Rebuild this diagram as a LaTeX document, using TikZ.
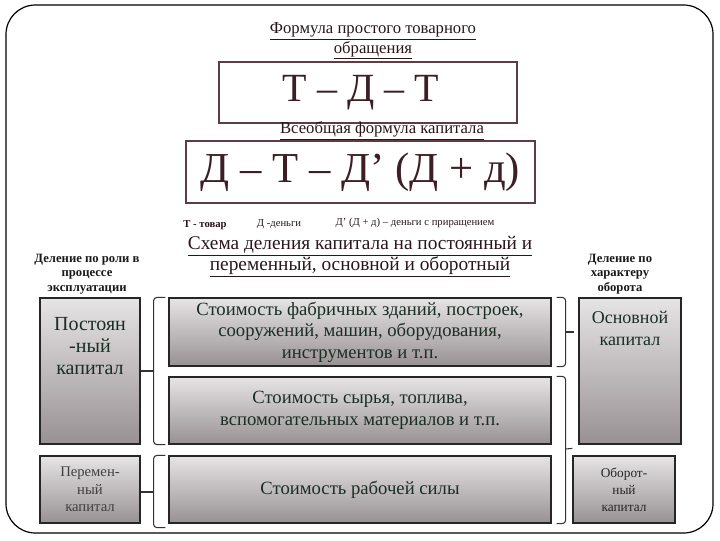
\documentclass[tikz,border=0pt]{standalone}
\usepackage{fontspec}
\setmainfont{Liberation Serif}
\usetikzlibrary{calc}
\definecolor{frm}{RGB}{60,30,36}
\definecolor{frmline}{RGB}{95,60,68}
\definecolor{ttltxt}{RGB}{40,22,26}
\definecolor{boxtxt}{RGB}{26,46,36}
\definecolor{boxtop}{RGB}{230,228,229}
\definecolor{boxbot}{RGB}{152,145,147}
\begin{document}
\begin{tikzpicture}[x=0.75pt,y=-0.75pt,
  gbox/.style={draw=black!85, line width=0.9pt, top color=boxtop, bottom color=boxbot, inner sep=2pt, align=center, text=boxtxt},
  fbox/.style={draw=frmline, line width=1.5pt, fill=white, inner sep=0pt, text=frm},
  ttl/.style={align=center, text=ttltxt, inner sep=1pt},
  lbl/.style={align=center, text=black!90, inner sep=1pt, font=\fontsize{9.5}{11}\selectfont\bfseries},
  br/.style={line width=0.8pt, draw=black!80, rounded corners=2.5pt}]
\useasboundingbox (0,0) rectangle (720,540);
\draw[line width=0.9pt, rounded corners=22pt] (6,5) rectangle (713,533);

% formulas
\node[ttl, font=\fontsize{12.5}{13.5}\selectfont] (t1) at (373,41)
  {\underline{Формула простого товарного}\\\underline{обращения}};
\node[fbox, minimum width=223.5pt, minimum height=45.75pt] (f1) at (368,92.5) {};
\node[text=frm, font=\fontsize{30}{30}\selectfont, inner sep=0pt] (f1T) at ($(f1.center)+(-7,0)$) {Т – Д – Т};
\node[ttl, font=\fontsize{12.5}{13.5}\selectfont] (t2) at (382,131) {\underline{Всеобщая формула капитала}};
\node[fbox, minimum width=261.75pt, minimum height=46.5pt, font=\fontsize{32}{32}\selectfont] (f2) at (360.5,172) {Д – Т – Д’ (Д + д)};

% legend
\node[ttl, font=\fontsize{8}{9}\selectfont\bfseries] (l1) at (205,225) {Т - товар};
\node[ttl, font=\fontsize{8}{9}\selectfont] (l2) at (279,224) {Д -деньги};
\node[ttl, font=\fontsize{8}{9}\selectfont] (l3) at (415,223) {Д’ (Д + д) – деньги с приращением};

% heading
\node[ttl, font=\fontsize{14.5}{15.75}\selectfont] (sch) at (360,257)
  {\underline{Схема деления капитала на постоянный и}\\\underline{переменный, основной и оборотный}};

\node[lbl] (ll) at (87,274) {Деление по роли в\\процессе\\эксплуатации};
\node[lbl] (rl) at (620,274) {Деление по\\характеру\\оборота};

% left boxes
\node[gbox, minimum width=75pt, minimum height=109.5pt] (post) at (90,371) {};
\node[align=center, text=boxtxt, font=\fontsize{15}{16.5}\selectfont] (postT) at ($(post.north)+(0,49)$) {Постоян\\-ный\\капитал};
\node[gbox, minimum width=75pt, minimum height=50.25pt, text=black!75, font=\fontsize{11}{13}\selectfont] (per) at (90,489.5) {Перемен-\\ный\\капитал};

% middle boxes
\node[gbox, minimum width=286.5pt, minimum height=51pt, font=\fontsize{14}{16}\selectfont] (bA) at (360,332)
  {Стоимость фабричных зданий, построек,\\сооружений, машин, оборудования,\\инструментов и т.п.};
\node[gbox, minimum width=286.5pt, minimum height=50.25pt, font=\fontsize{14}{16.5}\selectfont] (bB) at (360,410.5)
  {Стоимость сырья, топлива,\\вспомогательных материалов и т.п.};
\node[gbox, minimum width=286.5pt, minimum height=50.25pt, font=\fontsize{14}{16}\selectfont] (bC) at (360,489.5)
  {Стоимость рабочей силы};

% right boxes
\node[gbox, minimum width=76.5pt, minimum height=109.5pt] (osn) at (630,371) {};
\node[align=center, text=boxtxt, font=\fontsize{13.5}{16.5}\selectfont] (osnT) at ($(osn.north)+(0,31)$) {Основной\\капитал};
\node[gbox, minimum width=76.5pt, minimum height=50.25pt, text=black!85, font=\fontsize{10}{12.75}\selectfont] (ob) at (624,489.5) {Оборот-\\ный\\капитал};

% left braces
\draw[br] ($(bA.north west)+(-3,0)$) -| ($(post.east)+(13,0)$) |- ($(bB.south west)+(-3,0)$);
\draw[br] (post.east) -- ($(post.east)+(13,0)$);
\draw[br] ($(bC.north west)+(-3,0)$) -| ($(per.east)+(13,2.5)$) |- ($(bC.south west)+(-3,4)$);
\draw[br] ($(per.east)+(0,2.5)$) -- ($(per.east)+(13,2.5)$);

% right braces
\draw[br] ($(bA.north east)+(5,0)$) -| ($(bA.east)+(14,0)$) |- ($(bA.south east)+(5,0)$);
\draw[br] ($(bA.east)+(14,0)$) -- ($(bA.east)+(22,0)$);
\draw[br] ($(bB.north east)+(5,0)$) -| ($(bB.east)+(14,38.5)$) |- ($(bC.south east)+(5,0)$);
\draw[br] ($(bB.east)+(14,38.5)$) -- ($(ob.north west)+(0,-7)$);
\end{tikzpicture}
\end{document}
